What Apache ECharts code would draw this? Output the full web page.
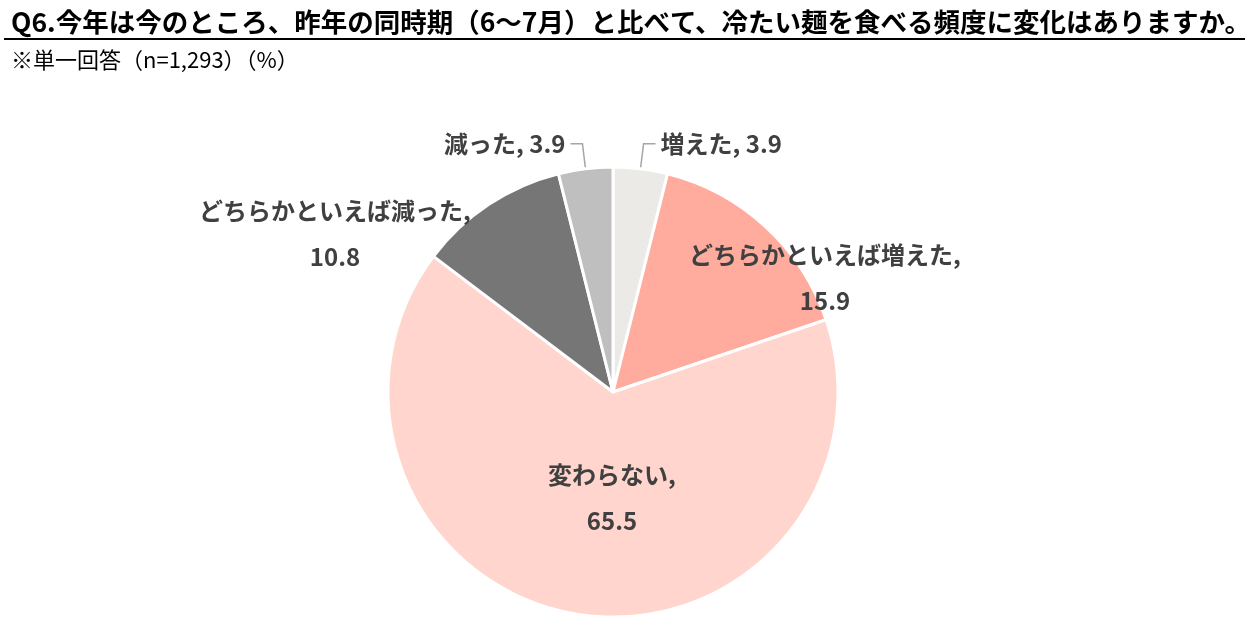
<!DOCTYPE html>
<html>
<head>
<meta charset="utf-8">
<style>
  html, body { margin: 0; padding: 0; background: #ffffff; }
  #chart { width: 1252px; height: 634px; }
</style>
<script src="https://cdn.jsdelivr.net/npm/echarts@6/dist/echarts.min.js"></script>
</head>
<body>
<div id="chart"></div>
<script>
// ---- data ----
const categories = ['増えた', 'どちらかといえば増えた', '変わらない', 'どちらかといえば減った', '減った'];
const values = [3.9, 15.9, 65.5, 10.8, 3.9];
const titleText = 'Q6.今年は今のところ、昨年の同時期（6～7月）と比べて、冷たい麺を食べる頻度に変化はありますか。';
const subText = '※単一回答（n=1,293）（%）';

// ---- styling ----
const colors = ['#EBEAE6', '#FFAB9D', '#FFD5CE', '#767676', '#BFBFBF'];
const twoLine = [false, true, true, true, false];
const outside = [true, false, false, false, true];
// label anchor spots (centre of label block) for the manually placed labels
const labelSpots = { 1: [825, 278], 2: [612, 498], 3: [335, 234] };
const FONT = "'Noto Sans CJK JP', 'Noto Sans', sans-serif";

const pieData = categories.map((name, i) => ({
  name: name,
  value: values[i],
  itemStyle: { color: colors[i] },
  label: { position: outside[i] ? 'outside' : 'inside' },
  labelLine: { show: outside[i] }
}));

const chart = echarts.init(document.getElementById('chart'), null, { renderer: 'canvas' });
chart.setOption({
  backgroundColor: '#ffffff',
  animation: false,
  title: [
    {
      text: titleText,
      left: 6, top: 4,
      textStyle: { fontFamily: FONT, fontSize: 26.5, fontWeight: 'bold', color: '#000000' }
    },
    {
      text: subText,
      left: 6, top: 44,
      textStyle: { fontFamily: FONT, fontSize: 22, fontWeight: 'normal', color: '#000000' }
    }
  ],
  graphic: [
    {
      type: 'line',
      shape: { x1: 4, y1: 39, x2: 1245, y2: 39 },
      style: { stroke: '#000000', lineWidth: 2 }
    }
  ],
  series: [
    {
      type: 'pie',
      center: [613, 392],
      radius: [0, 225],
      startAngle: 90,
      clockwise: true,
      avoidLabelOverlap: false,
      itemStyle: { borderColor: '#ffffff', borderWidth: 3 },
      label: {
        fontFamily: FONT,
        fontSize: 24,
        fontWeight: 'bold',
        color: '#404040',
        lineHeight: 46,
        formatter: function (p) {
          return twoLine[p.dataIndex] ? p.name + ',\n' + p.value : p.name + ', ' + p.value;
        }
      },
      labelLine: {
        length: 25,
        length2: 12,
        smooth: false,
        lineStyle: { color: '#A6A6A6', width: 1.5 }
      },
      labelLayout: function (params) {
        const spot = labelSpots[params.dataIndex];
        if (!spot) return {};
        return { x: spot[0], y: spot[1], align: 'center', verticalAlign: 'middle' };
      },
      data: pieData
    }
  ]
});
</script>
</body>
</html>
